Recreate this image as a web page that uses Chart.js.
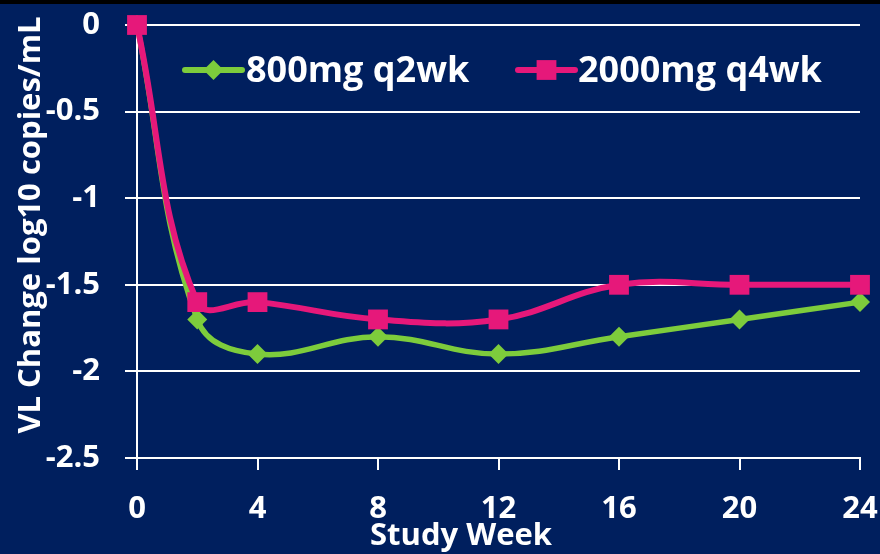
<!DOCTYPE html>
<html>
<head>
<meta charset="utf-8">
<script src="https://cdn.jsdelivr.net/npm/chart.js@4.4.1/dist/chart.umd.min.js"></script>
<style>
html, body { margin: 0; padding: 0; background: #000; overflow: hidden; }
#wrap { position: absolute; left: 0; top: 4px; width: 880px; height: 550px; background: #001f5e; }
</style>
</head>
<body>
<div id="wrap"><canvas id="vl"></canvas></div>
<script>
const weeks = [0, 2, 4, 8, 12, 16, 20, 24];
const dose800q2wk = [0, -1.7, -1.9, -1.8, -1.9, -1.8, -1.7, -1.6];
const dose2000q4wk = [0, -1.6, -1.6, -1.7, -1.7, -1.5, -1.5, -1.5];
const seriesNames = ['800mg q2wk', '2000mg q4wk'];
const xTitle = 'Study Week';
const yTitle = 'VL Change log10 copies/mL';

const green = '#7dcc3c';
const pink = '#e6187a';
const white = '#ffffff';
const font = '"Open Sans", "DejaVu Sans", sans-serif';

function toPoints(values) {
    return values.map((v, i) => ({ x: weeks[i], y: v }));
}

// titles and the in-plot legend
const overlay = {
    id: 'overlay',
    afterDraw(chart) {
        const ctx = chart.ctx;
        ctx.save();
        ctx.fillStyle = white;
        ctx.font = 'bold 31px ' + font;
        ctx.textAlign = 'center';
        ctx.textBaseline = 'alphabetic';
        ctx.fillText(xTitle, 461, 541);
        ctx.save();
        ctx.translate(40, 221);
        ctx.rotate(-Math.PI / 2);
        ctx.fillText(yTitle, 0, 0);
        ctx.restore();

        const items = [
            { text: seriesNames[0], color: green, style: 'rectRot', radius: 10, x0: 185, x1: 242, tx: 246 },
            { text: seriesNames[1], color: pink, style: 'rect', radius: 14, x0: 518, x1: 575, tx: 578 }
        ];
        const y = 66;
        items.forEach(it => {
            ctx.strokeStyle = it.color;
            ctx.lineWidth = 6;
            ctx.lineCap = 'round';
            ctx.beginPath();
            ctx.moveTo(it.x0, y);
            ctx.lineTo(it.x1, y);
            ctx.stroke();
            ctx.fillStyle = it.color;
            Chart.helpers.drawPoint(ctx, { pointStyle: it.style, radius: it.radius, rotation: 0, borderWidth: 0 }, (it.x0 + it.x1) / 2, y);
            ctx.fillStyle = white;
            ctx.font = 'bold 36px ' + font;
            ctx.textAlign = 'left';
            ctx.fillText(it.text, it.tx, y + 12);
        });
        ctx.restore();
    }
};

new Chart(document.getElementById('vl').getContext('2d'), {
    type: 'line',
    data: {
        datasets: [
            {
                label: seriesNames[0],
                data: toPoints(dose800q2wk),
                borderColor: green,
                backgroundColor: green,
                borderWidth: 5.5,
                pointStyle: 'rectRot',
                pointRadius: 10,
                pointHoverRadius: 10,
                pointBorderWidth: 0,
                tension: 0.4,
                clip: false,
                order: 1
            },
            {
                label: seriesNames[1],
                data: toPoints(dose2000q4wk),
                borderColor: pink,
                backgroundColor: pink,
                borderWidth: 6,
                pointStyle: 'rect',
                pointRadius: 14,
                pointHoverRadius: 14,
                pointBorderWidth: 0,
                tension: 0.4,
                clip: false,
                order: 0
            }
        ]
    },
    options: {
        responsive: true,
        maintainAspectRatio: false,
        animation: false,
        layout: { autoPadding: false, padding: { top: 21, right: 20, bottom: 0, left: 0 } },
        plugins: {
            legend: { display: false },
            tooltip: { enabled: false }
        },
        scales: {
            x: {
                type: 'linear',
                min: 0,
                max: 24,
                afterFit(s) {
                    s.height = 96;
                    s.paddingLeft = 0;
                    s.paddingRight = 0;
                },
                ticks: {
                    stepSize: 4,
                    color: white,
                    padding: 21,
                    font: { family: font, size: 31, weight: 'bold' }
                },
                grid: {
                    drawOnChartArea: false,
                    drawTicks: true,
                    tickLength: 12,
                    color: white,
                    lineWidth: 2
                },
                border: { color: white, width: 2 }
            },
            y: {
                min: -2.5,
                max: 0,
                afterFit(s) {
                    s.width = 137;
                    s.paddingTop = 0;
                    s.paddingBottom = 0;
                },
                ticks: {
                    stepSize: 0.5,
                    color: white,
                    padding: 25,
                    font: { family: font, size: 31, weight: 'bold' },
                    callback: v => String(v)
                },
                grid: {
                    drawTicks: true,
                    tickLength: 12,
                    color: white,
                    lineWidth: 2
                },
                border: { color: white, width: 2 }
            }
        }
    },
    plugins: [overlay]
});
</script>
</body>
</html>
